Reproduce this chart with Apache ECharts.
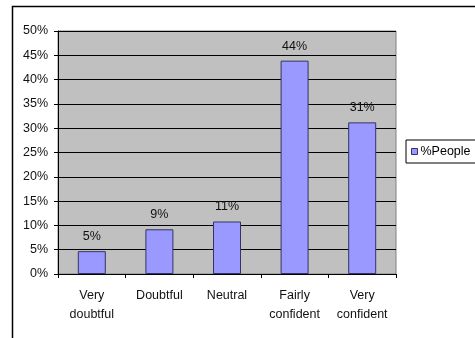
<!DOCTYPE html>
<html>
<head>
<meta charset="utf-8">
<script src="https://cdn.jsdelivr.net/npm/echarts@6/dist/echarts.min.js"></script>
<style>
  html, body { margin: 0; padding: 0; background: #fff; }
  #chart { width: 475px; height: 338px; }
</style>
</head>
<body>
<div id="chart"></div>
<script>
// Survey answers: share of people per confidence level
const categories = ['Very\ndoubtful', 'Doubtful', 'Neutral', 'Fairly\nconfident', 'Very\nconfident'];
const peoplePercent = [4.7, 9.2, 10.8, 43.9, 31.2];
const seriesName = '%People';

const font = '"Liberation Sans", Arial, sans-serif';
const chart = echarts.init(document.getElementById('chart'), null, { renderer: 'canvas' });

chart.setOption({
  animation: false,
  backgroundColor: '#ffffff',
  textStyle: { fontFamily: font },
  graphic: [{
    type: 'rect',
    shape: { x: 12.5, y: 6.5, width: 480, height: 340 },
    style: { fill: 'none', stroke: '#000', lineWidth: 1.5 },
    silent: true
  }],
  grid: {
    left: 58, top: 31, right: 79, bottom: 64,
    show: true,
    backgroundColor: '#c0c0c0',
    borderColor: '#808080',
    borderWidth: 1
  },
  legend: {
    left: 406, top: 140,
    orient: 'vertical',
    data: [seriesName],
    itemWidth: 6, itemHeight: 6,
    itemGap: 0,
    padding: [5, 12, 5, 5],
    borderColor: '#000', borderWidth: 1,
    backgroundColor: '#fff',
    textStyle: { fontFamily: font, fontSize: 12.5, color: '#000', padding: [0, 0, 0, -2] },
    icon: 'rect',
    itemStyle: { borderColor: '#333366', borderWidth: 1 }
  },
  xAxis: {
    type: 'category',
    data: categories,
    axisLine: { lineStyle: { color: '#000', width: 1 } },
    axisTick: { show: true, length: 4, lineStyle: { color: '#000' } },
    axisLabel: {
      fontFamily: font, fontSize: 12.5, color: '#111',
      lineHeight: 19, margin: 12, interval: 0
    }
  },
  yAxis: {
    type: 'value',
    min: 0, max: 50, interval: 5,
    axisLine: { show: true, lineStyle: { color: '#000', width: 1 } },
    axisTick: { show: true, length: 4, lineStyle: { color: '#000' } },
    axisLabel: {
      fontFamily: font, fontSize: 12.5, color: '#111', margin: 10,
      formatter: '{value}%'
    },
    splitLine: { show: true, lineStyle: { color: '#000', width: 1 } }
  },
  series: [{
    name: seriesName,
    type: 'bar',
    data: peoplePercent,
    barWidth: 28,
    itemStyle: { color: '#9999ff', borderColor: '#333366', borderWidth: 1 },
    label: {
      show: true,
      position: 'top',
      distance: 8,
      fontFamily: font, fontSize: 12.5, color: '#111',
      formatter: p => Math.round(p.value) + '%'
    }
  }]
});
</script>
</body>
</html>
